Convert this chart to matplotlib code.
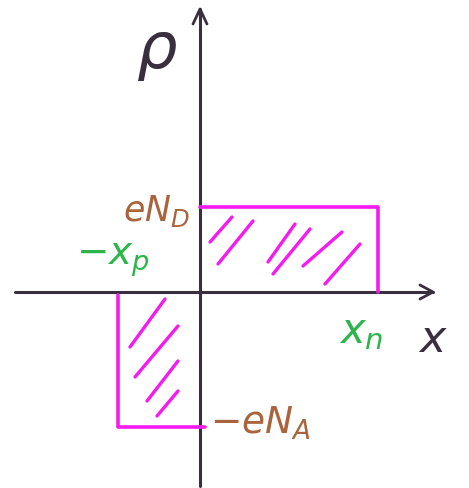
import numpy as np
import matplotlib
matplotlib.use("Agg")
import matplotlib.pyplot as plt

# depletion region edges and charge density levels (arbitrary units)
x_p = 0.82
x_n = 1.78
eN_D = 0.85
eN_A = 1.35

# hand hatching strokes inside the two charged slabs: (x0, y0, x1, y1)
hatch_n = [(0.10, 0.50, 0.32, 0.75), (0.18, 0.28, 0.53, 0.71),
           (0.68, 0.30, 0.95, 0.68), (0.73, 0.18, 1.10, 0.63),
           (1.03, 0.26, 1.42, 0.60), (1.25, 0.08, 1.60, 0.48)]
hatch_p = [(-0.70, -0.55, -0.35, -0.07), (-0.65, -0.85, -0.22, -0.34),
           (-0.53, -1.09, -0.22, -0.69), (-0.43, -1.24, -0.22, -0.99)]

ink = "#3a2f3e"
magenta = "#f51af0"
green = "#2db54b"
brown = "#a9643d"

fig = plt.figure(figsize=(4.69, 4.89), dpi=100)
ax = fig.add_axes([0, 0, 1, 1])
ax.set_xlim(-2.0, 2.69)
ax.set_ylim(-1.96, 2.93)
ax.axis("off")

# axes with open arrow heads
ax.plot([-1.85, 2.33], [0, 0], color=ink, lw=2.2, solid_capstyle="round")
ax.plot([0, 0], [-1.94, 2.83], color=ink, lw=2.2, solid_capstyle="round")
ax.plot([2.20, 2.33, 2.20], [0.07, 0.0, -0.07], color=ink, lw=2.0,
        solid_capstyle="round", solid_joinstyle="round")
ax.plot([-0.07, 0.0, 0.07], [2.68, 2.83, 2.68], color=ink, lw=2.0,
        solid_capstyle="round", solid_joinstyle="round")

# charge density profile
ax.plot([0, x_n, x_n], [eN_D, eN_D, 0], color=magenta, lw=2.6,
        solid_capstyle="round", solid_joinstyle="round")
ax.plot([-x_p, -x_p, 0.05], [-0.03, -eN_A, -eN_A], color=magenta, lw=2.6,
        solid_capstyle="round", solid_joinstyle="round")

for x0, y0, x1, y1 in hatch_n + hatch_p:
    ax.plot([x0, x1], [y0, y1], color=magenta, lw=2.4, solid_capstyle="round")

# labels
ax.text(-0.43, 2.41, r"$\rho$", fontsize=46, color=ink, ha="center", va="center")
ax.text(2.33, -0.46, r"$x$", fontsize=32, color=ink, ha="center", va="center")
ax.text(-0.10, 0.82, r"$eN_D$", fontsize=25, color=brown, ha="right", va="center")
ax.text(0.10, -1.30, r"$-eN_A$", fontsize=27, color=brown, ha="left", va="center")
ax.text(-0.50, 0.33, r"$-x_p$", fontsize=28, color=green, ha="right", va="center")
ax.text(1.61, -0.38, r"$x_n$", fontsize=30, color=green, ha="center", va="center")

fig.savefig("out.png", dpi=100, facecolor="white")
